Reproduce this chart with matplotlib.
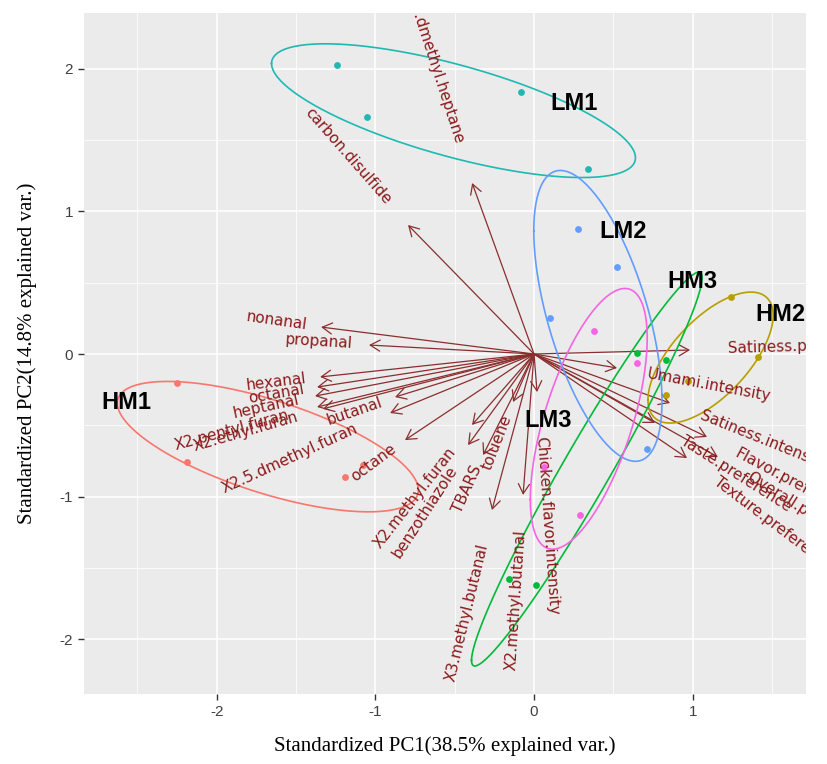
import numpy as np
import matplotlib
matplotlib.use("Agg")
import matplotlib.pyplot as plt
from matplotlib.textpath import TextPath
from matplotlib.font_manager import FontProperties

plt.rcParams["axes.unicode_minus"] = False

# sample scores (standardized PC1 / PC2) and their groups
sample_group = ["LM1"] * 4 + ["LM2"] * 4 + ["LM3"] * 4 + ["HM1"] * 4 + ["HM2"] * 4 + ["HM3"] * 4
pc1 = [-1.24, -1.05, -0.08, 0.34,
       0.28, 0.52, 0.10, 0.71,
       0.38, 0.65, 0.29, 0.06,
       -2.25, -2.19, -1.19, -1.08,
       1.24, 1.41, 0.97, 0.83,
       0.65, 0.83, -0.16, 0.01]
pc2 = [2.03, 1.66, 1.84, 1.30,
       0.88, 0.61, 0.25, -0.67,
       0.16, -0.06, -1.13, -0.79,
       -0.20, -0.76, -0.86, -0.78,
       0.40, -0.02, -0.19, -0.29,
       0.01, -0.04, -1.58, -1.62]

groups = ["HM1", "HM2", "HM3", "LM1", "LM2", "LM3"]
group_colors = ["#F8766D", "#B79F00", "#00BA38", "#1DB9B2", "#619CFF", "#F564E3"]
group_label_x = [-2.57, 1.55, 1.00, 0.25, 0.56, 0.09]
group_label_y = [-0.34, 0.28, 0.51, 1.76, 0.86, -0.47]

# variable loadings (arrow tips)
var_names = ["X2.5.dmethyl.heptane", "carbon.disulfide", "nonanal", "propanal",
             "hexanal", "octanal", "heptanal", "X2.pentyl.furan", "X2.ethyl.furan",
             "butanal", "X2.5.dmethyl.furan", "octane", "X2.methyl.furan",
             "benzothiazole", "TBARS", "toluene", "X3.methyl.butanal",
             "X2.methyl.butanal", "Chicken.flavor.intensity", "Satiness.preference",
             "Umami.intensity", "Satiness.intensity", "Flavor.preference",
             "Overall.preference", "Taste.preference", "Texture.preference"]
var_pc1 = [-0.390, -0.794, -1.342, -1.040, -1.348, -1.367, -1.380, -1.367, -1.330,
           -0.876, -0.907, -0.813, -0.391, -0.416, -0.321, -0.132, -0.265, -0.069,
           0.019, 0.983, 0.523, 0.857, 1.090, 1.159, 0.762, 0.964]
var_pc2 = [1.200, 0.905, 0.189, 0.063, -0.161, -0.232, -0.295, -0.372, -0.385,
           -0.302, -0.414, -0.604, -0.498, -0.639, -0.709, -0.337, -1.095, -0.989,
           -0.267, 0.028, -0.098, -0.344, -0.582, -0.723, -0.484, -0.730]


def data_ellipse(x, y, prob=0.68, n=100):
    pts = np.column_stack([x, y])
    mu = pts.mean(axis=0)
    sigma = np.cov(pts.T)
    ed = np.sqrt(-2 * np.log(1 - prob))
    theta = np.linspace(-np.pi, np.pi, n)
    circle = np.column_stack([np.cos(theta), np.sin(theta)])
    chol = np.linalg.cholesky(sigma)
    return circle @ chol.T * ed + mu


fig = plt.figure(figsize=(8.27, 7.64), dpi=100)
ax = fig.add_axes([0.1016, 0.0916, 0.873, 0.8914])
ax.set_facecolor("#EBEBEB")
for s in ax.spines.values():
    s.set_visible(False)

ax.set_xlim(-2.836, 1.714)
ax.set_ylim(-2.386, 2.393)
ax.set_xticks([-2, -1, 0, 1])
ax.set_yticks([-2, -1, 0, 1, 2])
ax.set_xticks([-2.5, -1.5, -0.5, 0.5, 1.5], minor=True)
ax.set_yticks([-1.5, -0.5, 0.5, 1.5], minor=True)
ax.grid(which="major", color="white", lw=1.1)
ax.grid(which="minor", color="white", lw=0.55)
ax.set_axisbelow(True)
ax.tick_params(which="major", length=4, width=1.0, color="#333333",
               labelcolor="#404040", labelsize=11, pad=4)
ax.tick_params(which="minor", length=0)
for lab in ax.get_xticklabels() + ax.get_yticklabels():
    lab.set_family("Liberation Sans")

ax.set_xlabel("Standardized PC1(38.5% explained var.)", family="Liberation Serif",
              fontsize=15, labelpad=12)
ax.set_ylabel("Standardized PC2(14.8% explained var.)", family="Liberation Serif",
              fontsize=15, labelpad=16)

arrow_col = "#8B2E2E"
text_col = "#8B1A1A"
for vx, vy in zip(var_pc1, var_pc2):
    ax.annotate("", xy=(vx, vy), xytext=(0, 0),
                arrowprops=dict(arrowstyle="->,head_length=0.7,head_width=0.4",
                                color=arrow_col, lw=0.9, shrinkA=0, shrinkB=0,
                                mutation_scale=10))

sg = np.array(sample_group)
x_all = np.array(pc1)
y_all = np.array(pc2)
for g, c in zip(groups, group_colors):
    m = sg == g
    ax.scatter(x_all[m], y_all[m], s=24, color=c, zorder=3, linewidths=0)
for g, c in zip(groups, group_colors):
    m = sg == g
    e = data_ellipse(x_all[m], y_all[m])
    ax.plot(e[:, 0], e[:, 1], color=c, lw=1.2, zorder=3)

fp = FontProperties(family="DejaVu Sans", size=11)
for name, vx, vy in zip(var_names, var_pc1, var_pc2):
    ang = np.degrees(np.arctan(vy / vx))
    w = TextPath((0, 0), name, prop=fp).get_extents().width
    sgn = 1 if vx > 0 else -1
    off = 0.25 * w * sgn
    dx = off * np.cos(np.radians(ang))
    dy = off * np.sin(np.radians(ang))
    ax.annotate(name, xy=(vx, vy), xytext=(dx, dy), textcoords="offset points",
                rotation=ang, rotation_mode="anchor",
                ha="left" if vx > 0 else "right", va="center",
                color=text_col, fontproperties=fp, clip_on=True, zorder=4)

for g, gx, gy in zip(groups, group_label_x, group_label_y):
    ax.text(gx, gy, g, ha="center", va="center", fontsize=17, fontweight="bold",
            family="Liberation Sans", color="black", zorder=5)

fig.savefig("out.png", dpi=100)
